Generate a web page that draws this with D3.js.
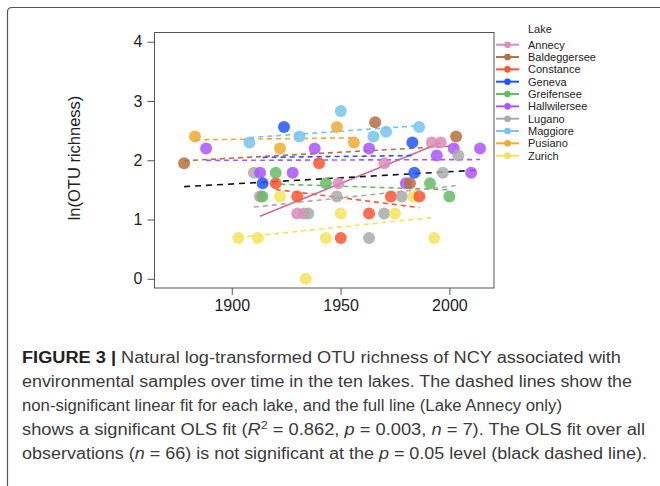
<!DOCTYPE html>
<html>
<head>
<meta charset="utf-8">
<script src="https://cdn.jsdelivr.net/npm/d3@7"></script>
<style>
  body { margin: 0; background: #fff; }
  svg { display: block; font-family: "Liberation Sans", Arial, sans-serif; }
</style>
</head>
<body>
<svg id="fig" width="660" height="486"></svg>
<script>
// lakes + colours, same order as the legend
const lakes = ['Annecy', 'Baldeggersee', 'Constance', 'Geneva', 'Greifensee',
  'Hallwilersee', 'Lugano', 'Maggiore', 'Pusiano', 'Zurich'];
const colors = ['#d98cb8', '#b5703f', '#ff5530', '#2255ff', '#66bb66',
  '#aa55ff', '#aaaaaa', '#77c4ee', '#eeaa33', '#f2e45a'];

// [year, ln(OTU richness)]
const annecy = [[1913.0, 1.39], [1930.1, 1.10], [1933.2, 1.10], [1949.0, 1.61], [1970.1, 1.95], [1991.9, 2.30], [1996.0, 2.30]];
const baldeggersee = [[1878.1, 1.95], [1965.9, 2.64], [1981.9, 1.61], [2003.1, 2.40]];
const constance = [[1920.2, 1.61], [1930.1, 1.39], [1940.1, 1.95], [1950.1, 0.69], [1963.1, 1.10], [1973.1, 1.39], [1986.2, 1.39]];
const geneva = [[1914.2, 1.61], [1924.0, 2.56], [1983.0, 2.30], [1983.9, 1.79]];
const greifensee = [[1914.1, 1.39], [1920.2, 1.79], [1943.3, 1.61], [1991.1, 1.61], [2000.0, 1.39]];
const hallwilersee = [[1888.2, 2.20], [1913.0, 1.79], [1928.0, 1.79], [1938.1, 2.20], [1963.1, 2.20], [1980.0, 1.61], [1994.2, 2.08], [2002.0, 2.20], [2010.0, 1.79], [2014.1, 2.20]];
const lugano = [[1910.2, 1.79], [1935.2, 1.10], [1948.3, 1.39], [1963.1, 0.69], [1970.0, 1.10], [1978.1, 1.39], [1997.0, 1.79], [2004.1, 2.08]];
const maggiore = [[1908.1, 2.30], [1931.1, 2.40], [1950.1, 2.83], [1965.1, 2.40], [1970.9, 2.48], [1986.1, 2.56]];
const pusiano = [[1883.1, 2.40], [1922.2, 2.20], [1948.3, 2.56], [1956.1, 2.30]];
const zurich = [[1903.0, 0.69], [1912.0, 0.69], [1922.2, 1.39], [1934.0, 0.00], [1943.2, 0.69], [1950.1, 1.10], [1975.0, 1.10], [1983.5, 1.39], [1993.0, 0.69]];

const series = [annecy, baldeggersee, constance, geneva, greifensee,
  hallwilersee, lugano, maggiore, pusiano, zurich];

const xTicks = [1900, 1950, 2000];
const yTicks = [0, 1, 2, 3, 4];

const caption = [
  [['FIGURE 3 | ', 'b'], ['Natural log-transformed OTU richness of NCY associated with']],
  [['environmental samples over time in the ten lakes. The dashed lines show the']],
  [['non-significant linear fit for each lake, and the full line (Lake Annecy only)']],
  [['shows a significant OLS fit ('], ['R', 'i'], ['2', 'sup'], [' = 0.862, '], ['p', 'i'],
   [' = 0.003, '], ['n', 'i'], [' = 7). The OLS fit over all']],
  [['observations ('], ['n', 'i'], [' = 66) is not significant at the '], ['p', 'i'],
   [' = 0.05 level (black dashed line).']]
];
const captionWidths = [599, 610, 540, 623, 625];

const svg = d3.select('#fig');

// outer figure frame (only top + left edges fall inside the picture)
svg.append('path')
  .attr('d', 'M7.5,700 V12 Q7.5,7.5 12,7.5 H700')
  .attr('fill', 'none').attr('stroke', '#555').attr('stroke-width', 1.2);

const x = d3.scaleLinear([1864.5, 2020.5], [154.5, 494]);
const y = d3.scaleLinear([-0.155, 4.155], [288, 32.5]);

// axes
const yAxis = svg.append('g').attr('transform', 'translate(154.5,0)')
  .call(d3.axisLeft(y).tickValues(yTicks).tickFormat(d3.format('d')).tickSize(7).tickPadding(5));
const xAxis = svg.append('g').attr('transform', 'translate(0,288)')
  .call(d3.axisBottom(x).tickValues(xTicks).tickFormat(d3.format('d')).tickSize(7).tickPadding(5));
[xAxis, yAxis].forEach(a => {
  a.select('.domain').remove();
  a.selectAll('line').attr('stroke', '#555');
  a.selectAll('text').attr('fill', '#222').style('font-size', '16px')
    .style('font-family', '"Liberation Sans", Arial, sans-serif');
});

svg.append('rect')
  .attr('x', 154.5).attr('y', 32.5).attr('width', 494 - 154.5).attr('height', 288 - 32.5)
  .attr('fill', 'none').attr('stroke', '#555').attr('stroke-width', 1);

svg.append('text')
  .attr('transform', 'translate(80,158) rotate(-90)')
  .attr('text-anchor', 'middle').attr('fill', '#222').style('font-size', '16.5px')
  .text('ln(OTU richness)');

// OLS fit, drawn over the data range
function fit(pts) {
  const mx = d3.mean(pts, d => d[0]), my = d3.mean(pts, d => d[1]);
  const b = d3.sum(pts, d => (d[0] - mx) * (d[1] - my)) / d3.sum(pts, d => (d[0] - mx) ** 2);
  const [x0, x1] = d3.extent(pts, d => d[0]);
  return [[x0, my + b * (x0 - mx)], [x1, my + b * (x1 - mx)]];
}
const line = d3.line(d => x(d[0]), d => y(d[1]));

series.forEach((pts, i) => {
  svg.append('path')
    .attr('d', line(fit(pts)))
    .attr('fill', 'none')
    .attr('stroke', i === 0 ? '#c96aa2' : colors[i])
    .attr('stroke-width', 1.6)
    .attr('stroke-dasharray', i === 0 ? null : '5,4');
});

// all observations
svg.append('path')
  .attr('d', line(fit(series.flat())))
  .attr('fill', 'none').attr('stroke', '#111').attr('stroke-width', 1.6)
  .attr('stroke-dasharray', '6,5');

// points, later samples on top
const pts = series.flatMap((s, i) => s.map(d => ({ year: d[0], v: d[1], c: colors[i] })))
  .sort((a, b) => a.year - b.year);
svg.append('g').selectAll('circle').data(pts).join('circle')
  .attr('cx', d => x(d.year)).attr('cy', d => y(d.v)).attr('r', 6)
  .attr('fill', d => d.c).attr('fill-opacity', 0.85);

// legend
const leg = svg.append('g');
leg.append('text').attr('x', 528).attr('y', 33).attr('fill', '#222')
  .style('font-size', '11px').text('Lake');
lakes.forEach((l, i) => {
  const ly = 44.7 + i * 12.33;
  leg.append('line').attr('x1', 496).attr('x2', 519).attr('y1', ly).attr('y2', ly)
    .attr('stroke', colors[i]).attr('stroke-width', 2);
  leg.append('circle').attr('cx', 507.5).attr('cy', ly).attr('r', 3.3).attr('fill', colors[i]);
  leg.append('text').attr('x', 528).attr('y', ly).attr('dy', '0.35em').attr('fill', '#222')
    .style('font-size', '11px').text(l);
});

// caption
caption.forEach((segs, i) => {
  const t = svg.append('text').attr('x', 22).attr('y', 363 + i * 24)
    .attr('fill', '#3a3a3a').style('font-size', '16px')
    .attr('textLength', captionWidths[i]).attr('lengthAdjust', 'spacingAndGlyphs');
  let shifted = false;
  segs.forEach(([s, k]) => {
    const ts = t.append('tspan').text(s);
    if (k === 'b') ts.attr('font-weight', 'bold').attr('fill', '#222');
    if (k === 'i') ts.attr('font-style', 'italic');
    if (k === 'sup') { ts.attr('dy', -6).style('font-size', '11px'); shifted = true; }
    else if (shifted) { ts.attr('dy', 6); shifted = false; }
  });
});
</script>
</body>
</html>
